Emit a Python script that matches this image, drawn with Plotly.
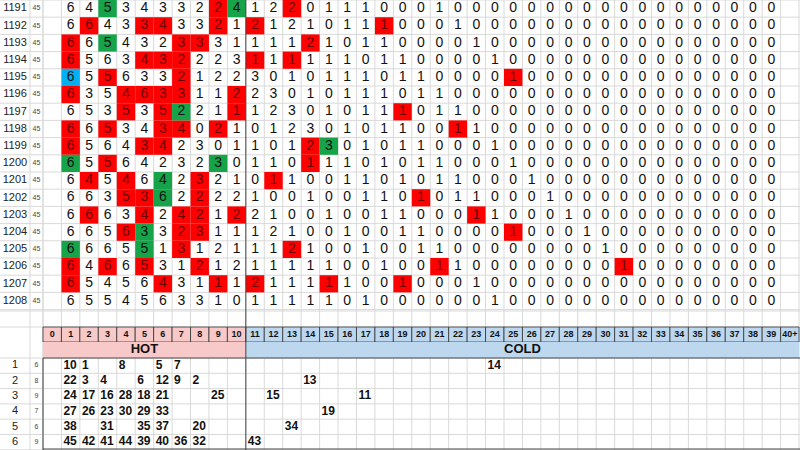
import plotly.graph_objects as go

draws = list(range(1191, 1209))
draw_counts = [45] * 18
# top grid values: columns 1..10 (hot), 11..18 and 19..39 (cold)
hot_vals = [
    [6,4,5,3,4,3,3,2,2,4],[6,6,4,3,3,4,3,3,2,1],[6,6,5,4,3,2,3,3,3,1],[6,5,6,3,4,3,2,2,2,3],
    [6,5,5,6,3,3,2,1,2,2],[6,3,5,4,6,3,3,1,1,2],[6,5,3,5,3,5,2,2,1,1],[6,6,5,3,4,3,4,0,2,1],
    [6,5,6,4,3,4,2,3,0,1],[6,5,5,6,4,2,3,2,3,0],[6,4,5,4,6,4,2,3,2,1],[6,6,3,5,3,6,2,2,2,2],
    [6,6,6,3,4,2,4,2,1,2],[6,6,5,6,3,3,2,3,1,1],[6,6,6,5,5,1,3,1,2,1],[6,4,6,6,5,3,1,2,1,2],
    [6,5,4,5,6,4,3,1,1,1],[6,5,5,4,5,6,3,3,1,0]]
mid_vals = [
    [1,2,2,0,1,1,1,0],[2,1,2,1,0,1,1,1],[1,1,1,2,1,0,1,1],[1,1,1,1,1,1,0,1],
    [3,0,1,0,1,1,1,0],[2,3,0,1,0,1,1,1],[1,2,3,0,1,0,1,1],[0,1,2,3,0,1,0,1],
    [1,0,1,2,3,0,1,0],[1,1,0,1,1,1,0,1],[0,1,1,0,0,1,1,0],[1,0,0,1,0,0,1,1],
    [2,1,0,0,1,0,0,1],[1,2,1,0,0,1,0,0],[1,1,2,1,0,0,1,0],[1,1,1,1,1,0,0,1],
    [2,1,1,1,1,1,0,0],[1,1,1,1,1,0,1,0]]
# columns (19..39) holding a 1 in each row, all others 0
ones_cols = [[21],[22],[23],[19,24],[19,20,25],[20,21],[19,21,22],[19,22,23],[19,20,24],
             [20,21,25],[19,21,22,26],[20,22,23,27],[19,23,24,28],[19,20,25,29],[20,21,30],
             [21,22,31],[19,23],[24]]
red_cells = {0:[9,13],1:[2,5,6,9,11,18],2:[1,7,8,14],3:[1,5,6,7,11,13],4:[3,7,25],
             5:[1,4,5,6,7,10],6:[4,6,10,19],7:[1,3,6,7,9,22],8:[1,5,6,14],9:[3,14],
             10:[2,4,8,12],11:[4,5,8,20],12:[2,5,7,8,10,23],13:[4,7,8,25],14:[7,13],
             15:[1,3,5,8,21,31],16:[1,6,9,11,15,19],17:[]}
green_cells = {0:[3,10],2:[3],6:[7],8:[15],9:[1,9],10:[6],11:[6],13:[5],14:[1,5]}
blue_cells = {4:[1]}

header_labels = [str(i) for i in range(40)] + ["40+"]
bottom_rows = [1,2,3,4,5,6]
bottom_counts = [6,8,9,7,6,9]
bottom_vals = [
    {1:10,2:1,4:8,6:5,7:7,24:14},
    {1:22,2:3,3:4,5:6,6:12,7:9,8:2,14:13},
    {1:24,2:17,3:16,4:28,5:18,6:21,9:25,12:15,17:11},
    {1:27,2:26,3:23,4:30,5:29,6:33,15:19},
    {1:38,3:31,5:35,6:37,8:20,13:34},
    {1:45,2:42,3:41,4:44,5:39,6:40,7:36,8:32,11:43}]

X0, W = 43.0, 18.44
RH = 17.2
HY0, HY1 = 327.0, 342.0
CY1 = 358.0
BH = 15.3
NC = 41
def cx(c): return X0 + c * W
FONT = "Liberation Sans, Arial"

shapes = []
def rect(x0, y0, x1, y1, fill, line="rgba(0,0,0,0)", lw=0, layer="below"):
    shapes.append(dict(type="rect", x0=x0, y0=y0, x1=x1, y1=y1, fillcolor=fill,
                       line=dict(color=line, width=lw), layer=layer))
def line(x0, y0, x1, y1, color, w=1, layer="below"):
    shapes.append(dict(type="line", x0=x0, y0=y0, x1=x1, y1=y1,
                       line=dict(color=color, width=w), layer=layer))

grid = "#d9d9d9"
for r in range(19):
    line(0, r * RH, 800, r * RH, grid)
for c in range(NC + 1):
    line(cx(c), 0, cx(c), 450, grid)
for xx in (30, X0):
    line(xx, 0, xx, 450, grid)
line(0, HY0 - 16, 800, HY0 - 16, grid)
line(0, HY0, 800, HY0, grid)
for r in range(7):
    line(0, CY1 + r * BH, 800, CY1 + r * BH, grid)

for d, col in ((red_cells, "#ff0000"), (green_cells, "#16a34a"), (blue_cells, "#00b0f0")):
    for r, cols in d.items():
        for c in cols:
            rect(cx(c), r * RH, cx(c + 1), (r + 1) * RH, col)

for c in range(NC):
    fill = "#f8c9c9" if c <= 10 else "#bdd7ee"
    rect(cx(c), HY0, cx(c + 1), HY1, fill, "#333", 0.8)
rect(cx(0), HY1, cx(11), CY1, "#f8c9c9")
rect(cx(11), HY1, cx(NC), CY1, "#bdd7ee")
line(cx(11), 0, cx(11), 450, "#444", 1, "above")
line(cx(0), CY1, 800, CY1, "#444", 1, "above")
line(cx(0), CY1, cx(0), 450, "#444", 1, "above")
line(cx(0), 449, 800, 449, "#444", 1, "above")

fig = go.Figure()
def txt(xs, ys, ts, size, color, bold=False, pos="middle center"):
    fig.add_trace(go.Scatter(x=xs, y=ys, text=[f"<b>{t}</b>" if bold else str(t) for t in ts],
                             mode="text", textposition=pos, hoverinfo="skip",
                             textfont=dict(family=FONT, size=size, color=color)))

txt([15] * 18, [(i + 0.5) * RH for i in range(18)], draws, 11, "#222")
txt([36.5] * 18, [(i + 0.5) * RH for i in range(18)], draw_counts, 7, "#444")

xs, ys, ts, xr, yr, tr = [], [], [], [], [], []
for r in range(18):
    full = hot_vals[r] + mid_vals[r] + [1 if c in ones_cols[r] else 0 for c in range(19, 40)]
    for k, v in enumerate(full):
        c = k + 1
        y = (r + 0.5) * RH
        x = cx(c) + W / 2
        if c in red_cells.get(r, []):
            xr.append(x); yr.append(y); tr.append(v)
        else:
            xs.append(x); ys.append(y); ts.append(v)
txt(xs, ys, ts, 14, "#111")
txt(xr, yr, tr, 14, "#6b0000")

txt([cx(c) + W / 2 for c in range(NC)], [(HY0 + HY1) / 2] * NC, header_labels, 9, "#111", bold=True)
txt([(cx(0) + cx(11)) / 2], [(HY1 + CY1) / 2], ["HOT"], 13, "#111", bold=True)
txt([(cx(11) + cx(NC)) / 2], [(HY1 + CY1) / 2], ["COLD"], 13, "#111", bold=True)

txt([15] * 6, [CY1 + (i + 0.5) * BH for i in range(6)], bottom_rows, 11, "#222")
txt([36.5] * 6, [CY1 + (i + 0.5) * BH for i in range(6)], bottom_counts, 7, "#444")
bx, by, bt = [], [], []
for i, row in enumerate(bottom_vals):
    for c, v in row.items():
        bx.append(cx(c) + 2); by.append(CY1 + (i + 0.5) * BH); bt.append(v)
txt(bx, by, bt, 12, "#111", bold=True, pos="middle right")

fig.update_layout(width=800, height=450, margin=dict(l=0, r=0, t=0, b=0),
                  plot_bgcolor="white", paper_bgcolor="white", showlegend=False,
                  shapes=shapes,
                  xaxis=dict(range=[0, 800], visible=False, fixedrange=True),
                  yaxis=dict(range=[450, 0], visible=False, fixedrange=True))
fig.write_html("out.html", config={"displayModeBar": False},
               post_script="document.body.style.margin='0';document.body.style.padding='0';document.body.style.overflow='hidden';")
